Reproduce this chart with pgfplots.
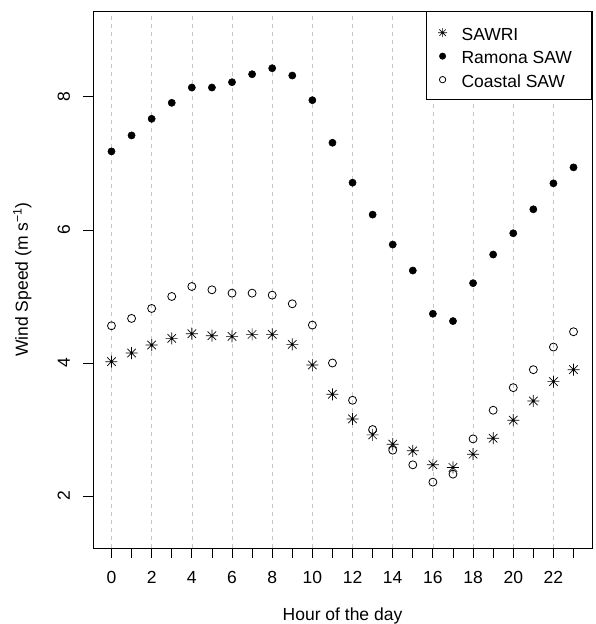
\documentclass[border=0pt]{standalone}
\usepackage{fontspec}
\setmainfont{Liberation Sans}
\usepackage{pgfplots}
\usepackage{pgfplotstable}
\pgfplotsset{compat=1.18}
\pgfdeclareplotmark{rast}{%
  \pgfpathmoveto{\pgfpoint{-\pgfplotmarksize}{0pt}}%
  \pgfpathlineto{\pgfpoint{\pgfplotmarksize}{0pt}}%
  \pgfpathmoveto{\pgfpoint{0pt}{-\pgfplotmarksize}}%
  \pgfpathlineto{\pgfpoint{0pt}{\pgfplotmarksize}}%
  \pgfpathmoveto{\pgfpoint{-0.7071\pgfplotmarksize}{-0.7071\pgfplotmarksize}}%
  \pgfpathlineto{\pgfpoint{0.7071\pgfplotmarksize}{0.7071\pgfplotmarksize}}%
  \pgfpathmoveto{\pgfpoint{-0.7071\pgfplotmarksize}{0.7071\pgfplotmarksize}}%
  \pgfpathlineto{\pgfpoint{0.7071\pgfplotmarksize}{-0.7071\pgfplotmarksize}}%
  \pgfusepathqstroke}
\newcommand\fs{\fontsize{17.5}{21}\selectfont}
\pgfplotstableread{
h sawri ramona coastal
0 4.02 7.18 4.56
1 4.15 7.42 4.67
2 4.27 7.67 4.82
3 4.37 7.91 5.00
4 4.44 8.14 5.15
5 4.41 8.14 5.10
6 4.40 8.22 5.05
7 4.43 8.34 5.05
8 4.43 8.43 5.02
9 4.28 8.32 4.89
10 3.97 7.95 4.57
11 3.53 7.31 4.00
12 3.16 6.71 3.44
13 2.92 6.23 3.00
14 2.78 5.78 2.69
15 2.68 5.39 2.47
16 2.47 4.74 2.21
17 2.43 4.63 2.33
18 2.63 5.20 2.86
19 2.87 5.63 3.29
20 3.14 5.95 3.63
21 3.43 6.31 3.90
22 3.72 6.70 4.24
23 3.90 6.94 4.47
}\data
\begin{document}
\begin{tikzpicture}
\useasboundingbox (-93pt,-76pt) rectangle (502pt,548pt);
\begin{axis}[
  at={(0pt,0pt)}, anchor=south west, scale only axis,
  width=499pt, height=537pt,
  xmin=-0.92, xmax=23.92, ymin=1.22, ymax=9.29,
  axis line style={line width=0.8pt},
  xtick={0,2,...,22}, minor xtick={1,3,...,23}, ytick={2,4,6,8},
  xtick pos=bottom, ytick pos=left, tick align=outside,
  major tick length=10pt, minor tick length=10pt,
  tick style={line width=0.8pt, black},
  minor tick style={line width=0.8pt, black},
  xmajorgrids,
  major grid style={gray!45, line width=0.6pt, dash pattern=on 4pt off 4pt},
  /pgf/number format/assume math mode=true,
  tick label style={font=\fs},
  xticklabel style={anchor=base, inner sep=0pt},
  yticklabel style={xshift=-13pt, rotate=90, anchor=base, inner sep=0pt},
  xticklabel shift=25pt,
  xlabel={Hour of the day},
  ylabel={Wind Speed (m s\textsuperscript{−1})},
  label style={font=\fs},
  xlabel style={at={(axis description cs:0.5,-0.1359)}, anchor=base, inner sep=0pt},
  ylabel style={at={(axis description cs:-0.1303,0.5)}, anchor=base, inner sep=0pt},
  legend style={at={(1,1)}, anchor=north east, draw=black, line width=0.8pt,
    font=\fs, inner xsep=8pt, inner ysep=11.5pt, row sep=6pt, column sep=11pt,
    nodes={inner sep=0pt, text height=17.5pt, text depth=0pt}},
  legend cell align=left,
  legend image code/.code={\path[draw=none, fill=none] (0pt,-1pt) rectangle (16pt,1pt);
    \draw[#1] plot coordinates {(8pt,-1pt)};},
]
\addplot[only marks, mark=rast, mark size=6pt, line width=0.7pt,
  legend image post style={mark size=4.5pt}] table[x=h, y=sawri] {\data};
\addlegendentry{\makebox[122pt][l]{SAWRI}}
\addplot[only marks, mark=*, mark size=3.6pt, mark options={draw=black, fill=black, line width=0.5pt},
  legend image post style={mark size=3.2pt}] table[x=h, y=ramona] {\data};
\addlegendentry{\makebox[122pt][l]{Ramona SAW}}
\addplot[only marks, mark=o, mark size=4pt, mark options={draw=black, line width=0.8pt},
  legend image post style={mark size=3.2pt}] table[x=h, y=coastal] {\data};
\addlegendentry{\makebox[122pt][l]{Coastal SAW}}
\end{axis}
\end{tikzpicture}
\end{document}
